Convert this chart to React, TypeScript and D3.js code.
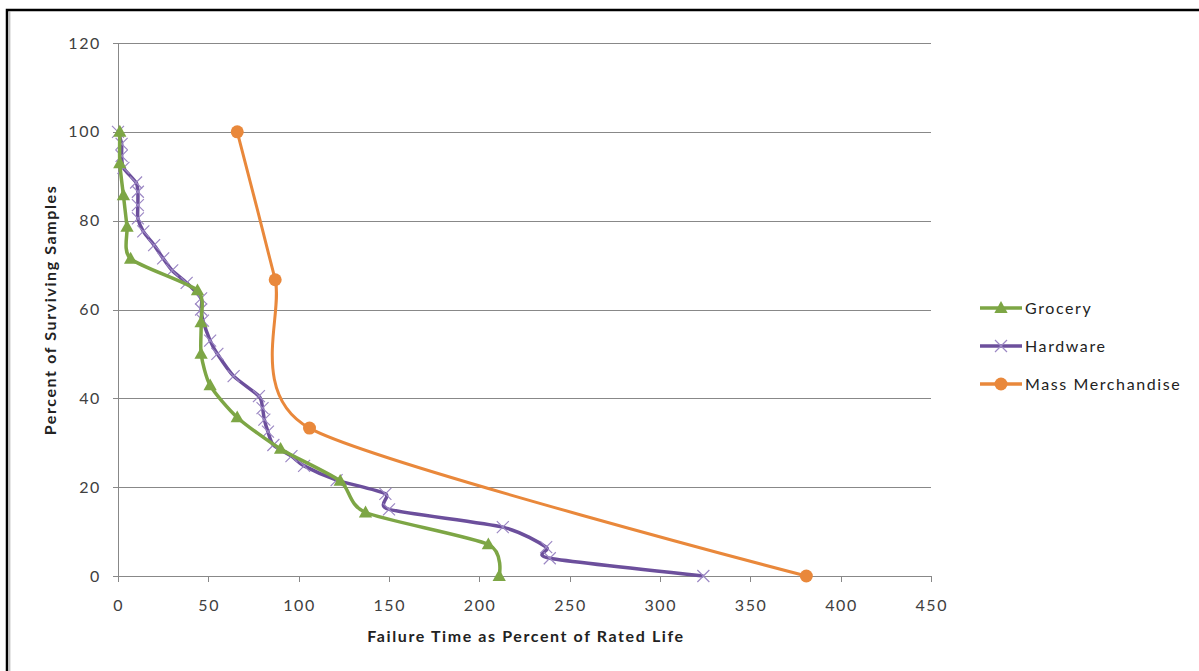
import React from "react";
import * as d3 from "d3";

// Percent of surviving samples vs. failure time (as % of rated life)
const groceryX = [1, 1, 3, 5, 7, 44, 46, 46, 51, 66, 90, 123, 137, 205, 211];
const groceryY = [100, 92.9, 85.7, 78.6, 71.4, 64.3, 57.1, 50, 42.9, 35.7, 28.6, 21.4, 14.3, 7.1, 0];

const hardwareX = [0, 2, 2, 3, 10, 11, 11, 11, 14, 20, 25, 30, 38, 46, 46, 47, 51, 55, 64, 78, 80, 81, 83, 86, 96, 103, 121, 148, 150, 213, 237, 239, 324];
const hardwareY = [100, 97.3, 94.6, 91.9, 88.6, 86.5, 83.5, 80.5, 77.6, 74.5, 71.5, 68.8, 66, 62.5, 60, 57.5, 53, 50, 45, 40.5, 37.8, 35.2, 32.5, 29.5, 27, 24.8, 21.6, 18.5, 15, 11, 6.5, 4, 0];

const massX = [66, 87, 106, 381];
const massY = [100, 66.7, 33.3, 0];

const xTicks = [0, 50, 100, 150, 200, 250, 300, 350, 400, 450];
const yTicks = [0, 20, 40, 60, 80, 100, 120];

const seriesNames = ["Grocery", "Hardware", "Mass Merchandise"];

const GREEN = "#7DA645";
const PURPLE = "#6C4F9C";
const PURPLE_MARK = "#9C88C4";
const ORANGE = "#E9883B";
const FONT = "Lato, 'Open Sans', sans-serif";
const FS = 16;
const LS = 1.6;

const W = 1199;
const H = 671;
const plot = { left: 118, right: 931, top: 43, bottom: 576 };

export default function App() {
  const x = d3.scaleLinear().domain([0, 450]).range([plot.left, plot.right]);
  const y = d3.scaleLinear().domain([0, 120]).range([plot.bottom, plot.top]);

  const line = d3
    .line<[number, number]>()
    .x((d) => x(d[0]))
    .y((d) => y(d[1]))
    .curve(d3.curveCardinal.tension(0.3));

  const zip = (xs: number[], ys: number[]) => xs.map((v, i) => [v, ys[i]] as [number, number]);
  const grocery = zip(groceryX, groceryY);
  const hardware = zip(hardwareX, hardwareY);
  const mass = zip(massX, massY);

  const tri = (cx: number, cy: number, s: number) =>
    `M${cx},${cy - s} L${cx + s * 0.95},${cy + s * 0.7} L${cx - s * 0.95},${cy + s * 0.7} Z`;
  const cross = (cx: number, cy: number, s: number) =>
    `M${cx - s},${cy - s} L${cx + s},${cy + s} M${cx - s},${cy + s} L${cx + s},${cy - s}`;

  const legendY = [308, 346, 384];

  return (
    <svg
      width={W}
      height={H}
      style={{ position: "absolute", left: 0, top: 0, background: "#fff" }}
    >
      {/* outer frame */}
      <rect x={7} y={10} width={1300} height={1000} fill="none" stroke="#000" strokeWidth={2.5} />
      <line x1={9.8} x2={9.8} y1={11} y2={H} stroke="#aaa" strokeWidth={1} />

      {/* gridlines */}
      {yTicks.map((t) => (
        <line
          key={"g" + t}
          x1={plot.left}
          x2={plot.right}
          y1={Math.round(y(t)) + 0.5}
          y2={Math.round(y(t)) + 0.5}
          stroke="#888"
          strokeWidth={1}
        />
      ))}
      {/* y axis */}
      <line x1={plot.left + 0.5} x2={plot.left + 0.5} y1={y(120)} y2={y(0)} stroke="#888" />
      {yTicks.map((t) => (
        <line
          key={"yt" + t}
          x1={plot.left - 5}
          x2={plot.left}
          y1={Math.round(y(t)) + 0.5}
          y2={Math.round(y(t)) + 0.5}
          stroke="#888"
        />
      ))}
      {xTicks.map((t) => (
        <line
          key={"xt" + t}
          x1={Math.round(x(t)) + 0.5}
          x2={Math.round(x(t)) + 0.5}
          y1={plot.bottom}
          y2={plot.bottom + 6}
          stroke="#888"
        />
      ))}
      {yTicks.map((t) => (
        <text
          key={"yl" + t}
          x={plot.left - 17}
          y={y(t)}
          dy="0.35em"
          textAnchor="end"
          fontFamily={FONT}
          fontSize={FS}
          letterSpacing={LS}
          fill="#404040"
        >
          {t}
        </text>
      ))}
      {xTicks.map((t) => (
        <text
          key={"xl" + t}
          x={x(t) + LS / 2}
          y={plot.bottom + 35}
          textAnchor="middle"
          fontFamily={FONT}
          fontSize={FS}
          letterSpacing={LS}
          fill="#404040"
        >
          {t}
        </text>
      ))}

      {/* axis titles */}
      <text
        x={526}
        y={642}
        textAnchor="middle"
        fontFamily={FONT}
        fontSize={FS}
        letterSpacing={LS}
        fontWeight="bold"
        fill="#222"
      >
        Failure Time as Percent of Rated Life
      </text>
      <text
        transform={`translate(56,${310}) rotate(-90)`}
        textAnchor="middle"
        fontFamily={FONT}
        fontSize={FS}
        letterSpacing={LS}
        fontWeight="bold"
        fill="#222"
      >
        Percent of Surviving Samples
      </text>

      {/* series: Mass Merchandise */}
      <path d={line(mass) || ""} fill="none" stroke={ORANGE} strokeWidth={3} />
      {/* series: Hardware */}
      <path d={line(hardware) || ""} fill="none" stroke={PURPLE} strokeWidth={3.5} />
      {hardware.map((d, i) => (
        <path key={"h" + i} d={cross(x(d[0]), y(d[1]), 6)} stroke={PURPLE_MARK} strokeWidth={1.2} fill="none" />
      ))}
      {/* series: Grocery */}
      <path d={line(grocery) || ""} fill="none" stroke={GREEN} strokeWidth={3.5} />
      {grocery.map((d, i) => (
        <path key={"g" + i} d={tri(x(d[0]), y(d[1]), 7)} fill={GREEN} />
      ))}
      {mass.map((d, i) => (
        <circle key={"m" + i} cx={x(d[0])} cy={y(d[1])} r={6.5} fill={ORANGE} />
      ))}

      {/* legend */}
      {seriesNames.map((name, i) => {
        const ly = legendY[i];
        const col = [GREEN, PURPLE, ORANGE][i];
        return (
          <g key={name}>
            <line x1={980} x2={1022} y1={ly} y2={ly} stroke={col} strokeWidth={3.5} />
            {i === 0 && <path d={tri(1001, ly, 7)} fill={GREEN} />}
            {i === 1 && <path d={cross(1001, ly, 6)} stroke={PURPLE_MARK} strokeWidth={1.2} />}
            {i === 2 && <circle cx={1001} cy={ly} r={6.5} fill={ORANGE} />}
            <text
              x={1025}
              y={ly}
              dy="0.35em"
              fontFamily={FONT}
              fontSize={FS}
              letterSpacing={LS}
              fill="#222"
            >
              {name}
            </text>
          </g>
        );
      })}
    </svg>
  );
}
